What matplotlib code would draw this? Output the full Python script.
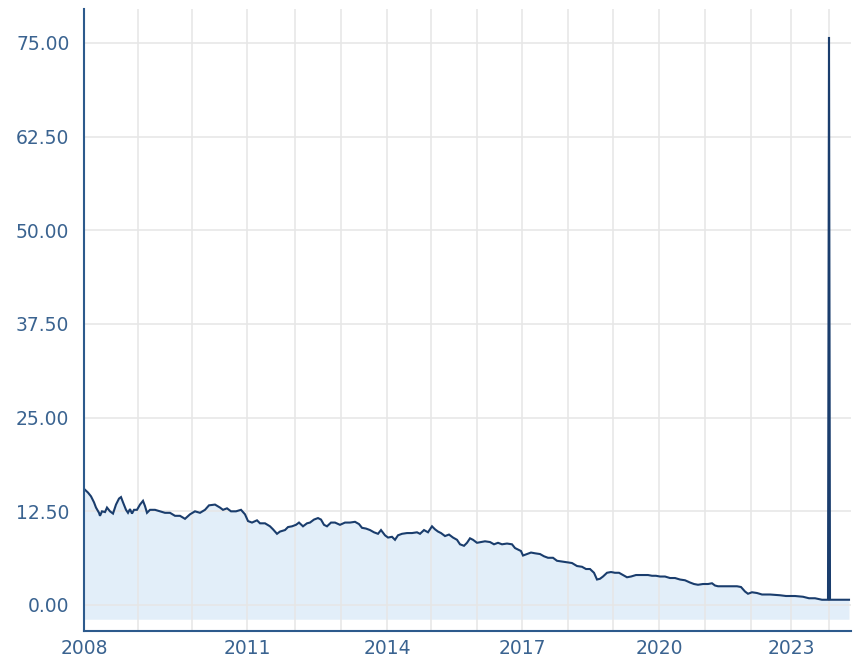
import matplotlib
matplotlib.use("Agg")
import matplotlib.pyplot as plt
import numpy as np

# Observation number along the (ordinal) time axis and the price at that observation
obs = [0, 4, 7, 10, 12, 15, 16, 18, 21, 23, 26, 29, 32, 35, 37, 39, 42, 44, 46, 48,
       50, 53, 56, 59, 61, 63, 66, 71, 76, 81, 86, 91, 96, 101, 106, 111, 116, 121,
       125, 131, 136, 139, 143, 147, 152, 157, 161, 164, 168, 173, 176, 181, 186,
       189, 193, 196, 201, 204, 208, 212, 215, 219, 223, 226, 230, 234, 237, 240,
       243, 247, 251, 256, 261, 266, 271, 275, 278, 282, 286, 290, 294, 297, 301,
       304, 308, 311, 314, 318, 323, 328, 333, 336, 340, 344, 348, 351, 354, 357,
       361, 365, 369, 373, 376, 380, 383, 386, 389, 393, 397, 401, 406, 410, 414,
       418, 423, 428, 431, 434, 437, 439, 443, 447, 451, 456, 460, 464, 469, 473,
       478, 483, 488, 493, 498, 502, 506, 510, 513, 516, 519, 523, 527, 531, 535,
       539, 543, 547, 552, 558, 564, 568, 572, 576, 581, 586, 591, 596, 601, 606,
       610, 614, 619, 624, 628, 631, 634, 638, 646, 653, 657, 661, 664, 668, 673,
       678, 686, 696, 702, 711, 719, 725, 731, 738, 744, 745, 746, 765]
price = [15.5, 15.0, 14.5, 13.7, 13.0, 12.3, 11.9, 12.5, 12.4, 13.0, 12.5, 12.2,
         13.4, 14.2, 14.4, 13.7, 12.7, 12.3, 12.8, 12.2, 12.7, 12.7, 13.4, 13.9,
         13.2, 12.3, 12.7, 12.7, 12.5, 12.3, 12.3, 11.9, 11.9, 11.5, 12.1, 12.5,
         12.3, 12.7, 13.3, 13.4, 13.0, 12.7, 12.9, 12.5, 12.5, 12.7, 12.1, 11.2,
         11.0, 11.3, 10.9, 10.9, 10.5, 10.1, 9.5, 9.8, 10.0, 10.4, 10.5, 10.7,
         11.0, 10.5, 10.9, 11.0, 11.4, 11.6, 11.4, 10.7, 10.5, 11.0, 11.0, 10.7,
         11.0, 11.0, 11.1, 10.8, 10.3, 10.2, 10.0, 9.7, 9.5, 10.0, 9.3, 9.0, 9.1,
         8.7, 9.3, 9.5, 9.6, 9.6, 9.7, 9.5, 10.0, 9.7, 10.5, 10.1, 9.8, 9.6, 9.2,
         9.4, 9.0, 8.7, 8.1, 7.9, 8.3, 8.9, 8.7, 8.3, 8.4, 8.5, 8.4, 8.1, 8.3, 8.1,
         8.2, 8.1, 7.6, 7.4, 7.2, 6.6, 6.8, 7.0, 6.9, 6.8, 6.5, 6.3, 6.3, 5.9, 5.8,
         5.7, 5.6, 5.2, 5.1, 4.8, 4.8, 4.3, 3.4, 3.5, 3.8, 4.3, 4.4, 4.3, 4.3, 4.0,
         3.7, 3.8, 4.0, 4.0, 4.0, 3.9, 3.9, 3.8, 3.8, 3.6, 3.6, 3.4, 3.3, 3.0, 2.8,
         2.7, 2.8, 2.8, 2.9, 2.6, 2.5, 2.5, 2.5, 2.5, 2.4, 1.8, 1.5, 1.7, 1.6, 1.4,
         1.4, 1.3, 1.2, 1.2, 1.1, 0.9, 0.9, 0.7, 0.7, 75.8, 0.7, 0.7]

# Observation number at which each calendar year begins
years = list(range(2008, 2025))
year_start_obs = [0, 54, 108, 163, 211, 257, 303, 347, 393, 438, 484, 529, 575,
                  621, 667, 707, 745]
labelled_years = [2008, 2011, 2014, 2017, 2020, 2023]

y_ticks = [0, 12.5, 25, 37.5, 50, 62.5, 75]

line_color = "#1a3d6d"
fill_color = "#e2eef9"
axis_color = "#2d5a8c"
text_color = "#3a6390"
grid_color = "#e6e6e6"

fig = plt.figure(figsize=(8.54, 6.62), dpi=100)
ax = fig.add_axes([84 / 854, 31 / 662, 767 / 854, 622.5 / 662])

ax.fill_between(obs, price, -1.9, color=fill_color, linewidth=0, zorder=1)
ax.plot(obs, price, color=line_color, linewidth=1.5, zorder=3,
        solid_joinstyle="miter")

ax.set_xlim(0, 767)
ax.set_ylim(-3.47, 79.6)

ax.set_xticks(year_start_obs)
ax.set_xticklabels([str(y) if y in labelled_years else "" for y in years])
ax.set_yticks(y_ticks)
ax.set_yticklabels([f"{v:.2f}" for v in y_ticks])

ax.set_axisbelow("line")
ax.grid(True, color=grid_color, linewidth=1.1)

for side in ("top", "right"):
    ax.spines[side].set_visible(False)
for side in ("left", "bottom"):
    ax.spines[side].set_color(axis_color)
    ax.spines[side].set_linewidth(1.5)
    ax.spines[side].set_zorder(4)

ax.tick_params(axis="both", length=0, labelsize=13.5, labelcolor=text_color)
ax.tick_params(axis="y", pad=10.5)
ax.tick_params(axis="x", pad=6)

fig.savefig("out.png", dpi=100)
